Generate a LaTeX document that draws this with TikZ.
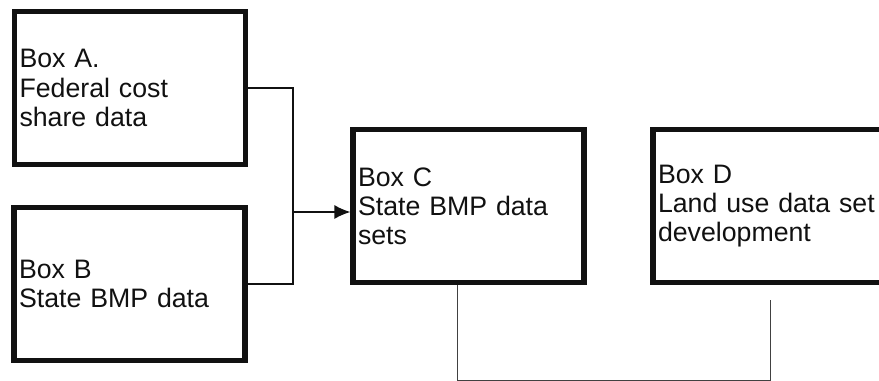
\documentclass[tikz,border=0pt]{standalone}
\usepackage{fontspec}
\setmainfont{Liberation Sans}
\usepackage{xcolor}
\usetikzlibrary{arrows.meta,calc,positioning}
\definecolor{ink}{HTML}{111111}
\tikzset{
  databox/.style={rectangle,draw=ink,line width=3pt,fill=white,
                  minimum width=4.62cm,minimum height=3.05cm,
                  inner xsep=0.1cm,inner ysep=0pt,text width=4.42cm,
                  align=left,text=ink,font=\fontsize{15.2}{16.6}\selectfont},
  link/.style={line width=0.8pt,draw=ink},
  feedlink/.style={line width=0.55pt,draw=ink!80},
  flow/.style={-{Latex[length=3.2mm,width=2.8mm]},line width=0.8pt,draw=ink}
}
\begin{document}
\begin{tikzpicture}[x=0.02cm,y=-0.02cm]
  \useasboundingbox (0,0) rectangle (879,381);
  \clip (0,0) rectangle (879,381);
  \node[databox] (boxA) at (130,88)    {Box A.\\Federal cost\\share data};
  \node[databox] (boxB) at (129.5,284) {Box B\\State BMP data};
  \node[databox] (boxC) at (468.5,206) {Box C\\State BMP data\\sets};
  \node[databox] (boxD) at (768.5,206) {Box D\\Land use data set\\development};
  % merge A and B into C
  \coordinate (jn) at (293,212);
  \draw[link] (boxA.east) -| (jn) |- (boxB.east);
  \draw[flow] (jn) -- (jn -| boxC.west);
  % lower link between C and D
  \coordinate (bl) at (457,380);
  \coordinate (dtail) at (770,300);
  \draw[feedlink] (bl |- boxC.south) -- (bl) -| (dtail);
\end{tikzpicture}
\end{document}
